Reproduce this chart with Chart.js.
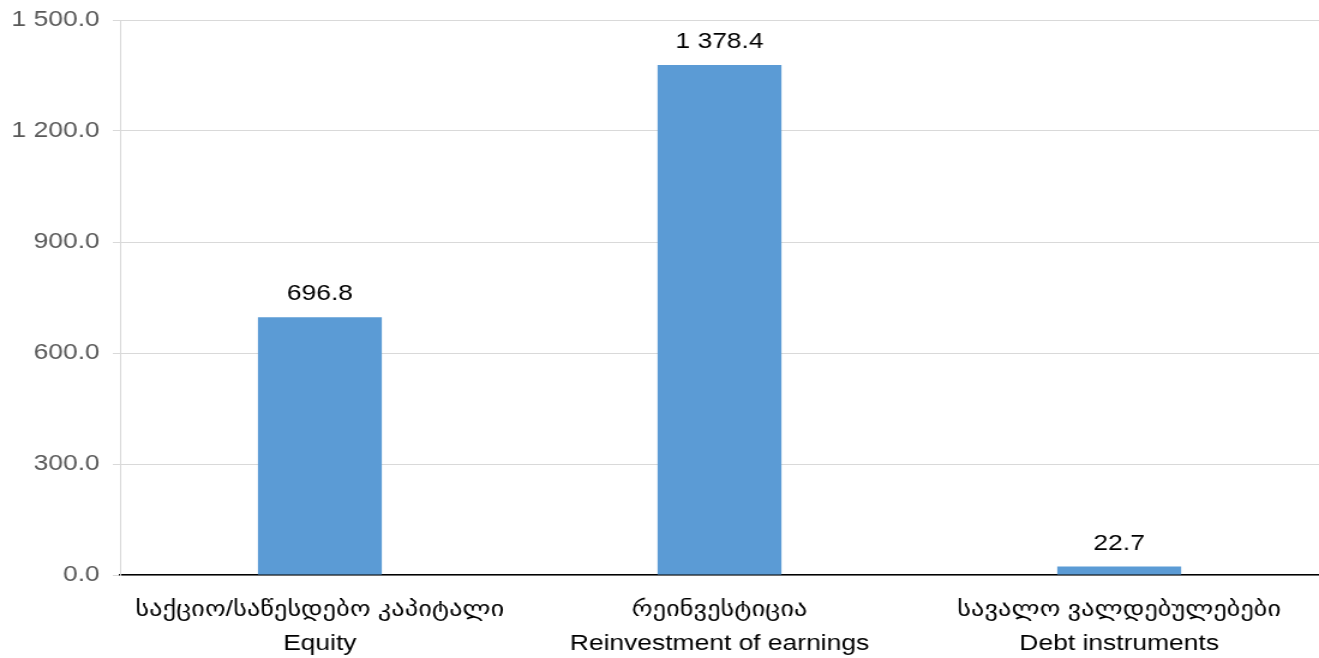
<!DOCTYPE html>
<html>
<head>
<meta charset="utf-8">
<script src="https://cdn.jsdelivr.net/npm/chart.js@4/dist/chart.umd.min.js"></script>
<style>
  body { margin: 0; background: #fff; overflow: hidden; }
  /* the reference text is a little wide, so the canvas is drawn narrower and stretched */
  canvas { display: block; width: 1319px !important; height: 658px !important; }
</style>
</head>
<body>
<canvas id="myChart" width="1099" height="658"></canvas>
<script>
var categories = [
    ['საქციო/საწესდებო კაპიტალი', 'Equity'],
    ['რეინვესტიცია', 'Reinvestment of earnings'],
    ['სავალო ვალდებულებები', 'Debt instruments']
];
var values = [696.8, 1378.4, 22.7];
var yTicks = [0, 300, 600, 900, 1200, 1500];

var fontFamily = '"Liberation Sans", Arial, "DejaVu Sans", sans-serif';

function fmt(v) {
    var s = Number(v).toFixed(1);
    var parts = s.split('.');
    parts[0] = parts[0].replace(/\B(?=(\d{3})+(?!\d))/g, ' ');
    return parts.join('.');
}

// draw the value above each bar
var barLabels = {
    id: 'barLabels',
    afterDatasetsDraw: function (chart) {
        var ctx = chart.ctx;
        var meta = chart.getDatasetMeta(0);
        ctx.save();
        ctx.font = '22px ' + fontFamily;
        ctx.fillStyle = '#000000';
        ctx.textAlign = 'center';
        ctx.textBaseline = 'alphabetic';
        meta.data.forEach(function (bar, i) {
            ctx.fillText(fmt(values[i]), bar.x, bar.y - 17);
        });
        ctx.restore();
    }
};

var ctx = document.getElementById('myChart').getContext('2d');
var chart = new Chart(ctx, {
    type: 'bar',
    data: {
        labels: categories,
        datasets: [{
            data: values,
            backgroundColor: '#5b9bd5',
            borderWidth: 0,
            barPercentage: 0.62,
            categoryPercentage: 0.5
        }]
    },
    options: {
        responsive: false,
        animation: false,
        devicePixelRatio: 1,
        layout: { padding: { top: 20, left: 10, right: 0, bottom: 0 } },
        plugins: {
            legend: { display: false },
            tooltip: { enabled: false }
        },
        scales: {
            x: {
                grid: { display: false, drawTicks: false },
                border: { display: true, color: '#000000', width: 1.5 },
                ticks: {
                    color: '#000000',
                    padding: 18,
                    font: { family: fontFamily, size: 22, lineHeight: 1.545 },
                    maxRotation: 0
                },
                afterFit: function (axis) {
                    axis.height = 83;
                    axis.paddingLeft = 0;
                    axis.paddingRight = 0;
                }
            },
            y: {
                min: 0,
                max: 1500,
                afterBuildTicks: function (axis) {
                    axis.ticks = yTicks.map(function (v) { return { value: v }; });
                },
                grid: { color: '#d9d9d9', lineWidth: 1, tickLength: 6 },
                border: { color: '#d9d9d9', width: 1 },
                ticks: {
                    color: '#595959',
                    padding: 11,
                    font: { family: fontFamily, size: 22 },
                    callback: function (v) { return fmt(v); }
                },
                afterFit: function (axis) {
                    axis.width = 90;
                    axis.paddingTop = 0;
                    axis.paddingBottom = 0;
                }
            }
        }
    },
    plugins: [barLabels]
});
</script>
</body>
</html>
